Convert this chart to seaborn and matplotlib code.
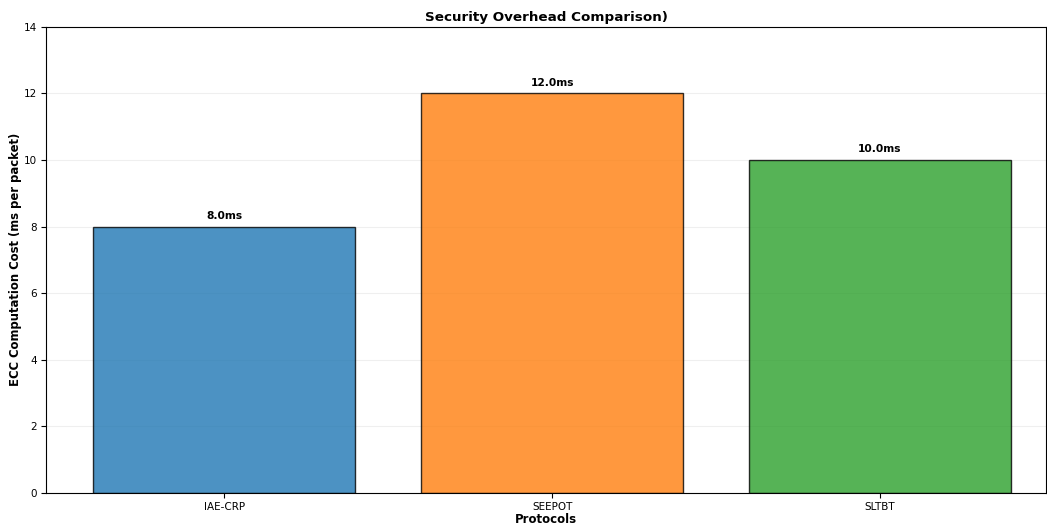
import matplotlib
matplotlib.use("Agg")
import matplotlib.pyplot as plt
import seaborn as sns
import pandas as pd

protocols = ["IAE-CRP", "SEEPOT", "SLTBT"]
ecc_cost = [8.0, 12.0, 10.0]
colors = ["#1f77b4", "#ff7f0e", "#2ca02c"]

df = pd.DataFrame({"Protocol": protocols, "Cost": ecc_cost})

sns.set_style("white", {"xtick.bottom": True, "ytick.left": True})
plt.rcParams['font.family'] = ['DejaVu Sans']
for k in ["text.color", "axes.labelcolor", "xtick.color", "ytick.color"]:
    plt.rcParams[k] = "black"

fig, ax = plt.subplots(figsize=(10.47, 5.26), dpi=100)
sns.barplot(data=df, x="Protocol", y="Cost", hue="Protocol", palette=colors,
            width=0.8, alpha=0.8, edgecolor="black", linewidth=1, ax=ax,
            legend=False, saturation=1)

for i, v in enumerate(ecc_cost):
    ax.text(i, v + 0.17, f"{v:.1f}ms", ha="center", va="bottom",
            fontweight="bold", fontsize=7.7)

ax.set_xlim(-0.543, 2.506)
ax.set_ylim(0, 14)
ax.set_title("Security Overhead Comparison)", fontweight="bold", fontsize=9.7, pad=4)
ax.set_xlabel("Protocols", fontweight="bold", fontsize=8.5, labelpad=1)
ax.set_ylabel("ECC Computation Cost (ms per packet)", fontweight="bold", fontsize=8.4, labelpad=1)
ax.tick_params(axis="both", labelsize=7.5, length=3.5, width=0.8, pad=3)
ax.yaxis.grid(True, alpha=0.3)
ax.set_axisbelow(True)
for s in ax.spines.values():
    s.set_color("black")
    s.set_linewidth(0.8)

fig.subplots_adjust(left=0.044, right=0.999, top=0.949, bottom=0.063)
fig.savefig("out.png", dpi=100)
